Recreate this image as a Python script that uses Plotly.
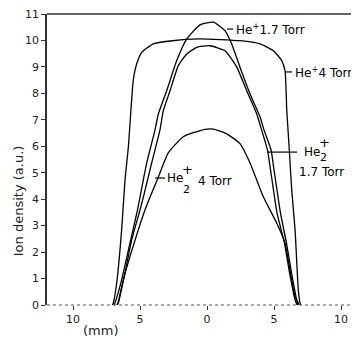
import plotly.graph_objects as go

# Data (x in mm, y in a.u.)
he_4torr_x = [-7.05, -6.99, -6.74, -6.37, -6.12, -5.87, -5.50, -5.25, -4.87, -4.01, -2.76, -0.52,
              2.46, 3.96, 4.95, 5.57, 5.82, 5.95, 6.14, 6.32, 6.57, 6.81, 6.94, 7.0]
he_4torr_y = [0.0, 0.08, 0.83, 2.84, 4.73, 5.97, 8.51, 9.11, 9.55, 9.87, 9.98, 10.06,
              9.99, 9.87, 9.61, 9.24, 8.86, 7.37, 5.86, 4.35, 2.84, 0.57, 0.08, 0.0]

he_17torr_x = [-6.95, -6.87, -6.37, -5.75, -5.19, -5.00, -4.50, -3.88, -3.63, -3.01, -2.26, -1.51,
               -0.52, 0.47, 1.34, 1.84, 2.46, 3.21, 3.96, 4.25, 4.78, 5.00, 5.22, 5.48, 5.93,
               6.31, 6.69, 6.79]
he_17torr_y = [0.0, 0.08, 0.95, 2.34, 3.59, 4.08, 5.37, 6.62, 7.22, 8.10, 9.24, 10.06,
               10.59, 10.69, 10.37, 9.87, 8.99, 7.98, 7.11, 6.62, 5.86, 5.10, 4.35, 3.48, 2.34,
               1.21, 0.19, 0.0]

he2_17torr_x = [-6.70, -6.62, -6.12, -5.62, -5.00, -4.75, -4.13, -3.51, -3.26, -2.76, -2.14, -1.51,
                -0.77, 0.22, 1.34, 2.22, 2.96, 3.71, 4.07, 4.51, 4.74, 4.96, 5.22, 5.78, 6.16,
                6.57, 6.72]
he2_17torr_y = [0.0, 0.08, 1.21, 2.46, 3.59, 4.08, 5.37, 6.62, 7.35, 8.10, 9.05, 9.49,
                9.74, 9.80, 9.61, 8.99, 8.10, 7.22, 6.62, 5.86, 5.10, 4.35, 3.48, 2.34, 1.21,
                0.19, 0.0]

he2_4torr_x = [-6.72, -6.62, -6.25, -5.75, -5.13, -4.63, -4.25, -3.63, -2.89, -1.77, -0.15, 0.47,
               1.47, 2.46, 3.21, 4.20, 5.20, 5.82, 6.19, 6.57, 6.81, 6.85]
he2_4torr_y = [0.0, 0.12, 0.95, 1.83, 2.84, 3.59, 4.08, 4.84, 5.75, 6.36, 6.64, 6.65,
               6.47, 6.10, 5.37, 4.09, 3.10, 2.34, 1.32, 0.31, 0.08, 0.0]

x_tick_vals = [-10, -5, 0, 5, 10]
x_tick_text = ["10", "5", "0", "5", "10"]
y_tick_vals = list(range(0, 12))
y_tick_text = [str(v) for v in y_tick_vals]

FONT = "DejaVu Sans, sans-serif"
line = dict(color="black", width=1.3, shape="spline", smoothing=0.5)

fig = go.Figure()
for xs, ys, name in [(he_4torr_x, he_4torr_y, "He+ 4 Torr"),
                     (he_17torr_x, he_17torr_y, "He+ 1.7 Torr"),
                     (he2_17torr_x, he2_17torr_y, "He2+ 1.7 Torr"),
                     (he2_4torr_x, he2_4torr_y, "He2+ 4 Torr")]:
    fig.add_trace(go.Scatter(x=xs, y=ys, mode="lines", line=line, name=name,
                             showlegend=False, hoverinfo="skip"))

# leader lines for labels
leaders = [((1.49, 10.43), (1.94, 10.43)),
           ((5.82, 8.81), (6.34, 8.81)),
           ((4.48, 5.78), (6.72, 5.78)),
           ((-3.88, 4.80), (-3.13, 4.80))]
for (x0, y0), (x1, y1) in leaders:
    fig.add_shape(type="line", x0=x0, y0=y0, x1=x1, y1=y1, xref="x", yref="y",
                  line=dict(color="black", width=1.2))

def ann(text, x, y, size=12, xanchor="left"):
    fig.add_annotation(text=text, x=x, y=y, xref="x", yref="y", showarrow=False,
                       xanchor=xanchor, yanchor="middle",
                       font=dict(family=FONT, size=size, color="black"))

ann("He<sup>+</sup>1.7 Torr", 1.98, 10.43)
ann("He<sup>+</sup>4 Torr", 6.38, 8.81)
ann("He", 7.05, 5.78)
ann("+", 8.74, 6.14, size=13, xanchor="center")
ann("2", 8.68, 5.58, size=11, xanchor="center")
ann("1.7 Torr", 6.7, 5.03)
ann("He", -3.13, 4.80)
ann("+", -1.46, 5.12, size=13, xanchor="center")
ann("2", -1.52, 4.37, size=11, xanchor="center")
ann("4 Torr", -0.80, 4.69)

fig.add_annotation(text="Ion density (a.u.)", x=-0.093, y=0.36, xref="paper", yref="paper",
                   showarrow=False, textangle=-90, xanchor="center", yanchor="middle",
                   font=dict(family=FONT, size=13, color="#222"))
fig.add_annotation(text="(mm)", x=0.17, y=-0.086, xref="paper", yref="paper",
                   showarrow=False, xanchor="center", yanchor="middle",
                   font=dict(family=FONT, size=13, color="#222"))

# top frame line (solid) and dotted bottom axis line
fig.add_shape(type="line", x0=0, x1=1, y0=1, y1=1, xref="paper", yref="paper",
              line=dict(color="#333", width=1.6))
fig.add_shape(type="line", x0=0, x1=1, y0=0, y1=0, xref="paper", yref="paper",
              line=dict(color="#555", width=1.2, dash="dot"))

# the page body has an 8px margin, so the figure is 8px smaller than the window
fig.update_layout(
    width=351, height=331,
    margin=dict(l=39, r=0, t=6, b=34),
    paper_bgcolor="white", plot_bgcolor="white",
    font=dict(family=FONT, size=11, color="#222"),
    xaxis=dict(range=[-11.94, 11.34], tickvals=x_tick_vals, ticktext=x_tick_text,
               showgrid=False, zeroline=False, showline=False,
               ticks="outside", ticklen=4, tickcolor="#333", tickwidth=1.2),
    yaxis=dict(range=[0, 11], tickvals=y_tick_vals, ticktext=y_tick_text,
               ticklabeloverflow="allow",
               showgrid=False, zeroline=False, showline=True, linecolor="#333", linewidth=1.6,
               ticks="outside", ticklen=4, tickcolor="#333", tickwidth=1.2),
)

fig.write_html("out.html")
